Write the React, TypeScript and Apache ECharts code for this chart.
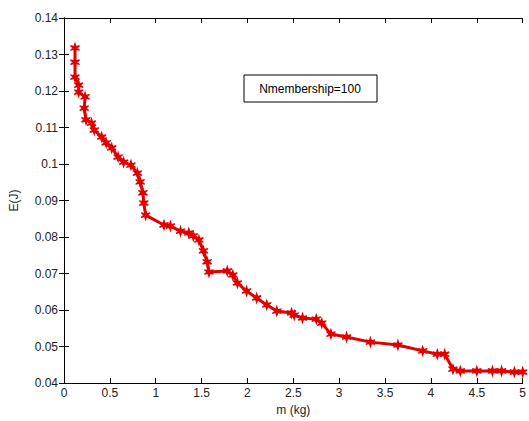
import React, { useEffect, useRef } from "react";
import * as echarts from "echarts";

const massKg = [0.12, 0.12, 0.12, 0.16, 0.16, 0.23, 0.22, 0.24, 0.30, 0.33, 0.41, 0.46, 0.52, 0.59, 0.65, 0.73, 0.80, 0.83, 0.86, 0.87, 0.89, 1.09, 1.16, 1.27, 1.36, 1.41, 1.47, 1.52, 1.56, 1.58, 1.78, 1.84, 1.89, 1.99, 2.10, 2.21, 2.32, 2.48, 2.51, 2.60, 2.75, 2.81, 2.91, 3.08, 3.34, 3.64, 3.91, 4.07, 4.15, 4.24, 4.32, 4.50, 4.67, 4.77, 4.91, 5.00];
const energyJ = [0.1318, 0.1279, 0.1238, 0.1216, 0.1197, 0.1184, 0.1153, 0.1121, 0.1112, 0.1093, 0.1074, 0.1058, 0.1044, 0.1019, 0.1005, 0.0997, 0.0975, 0.0951, 0.0921, 0.0893, 0.0860, 0.0833, 0.0830, 0.0816, 0.0811, 0.0803, 0.0792, 0.0762, 0.0732, 0.0704, 0.0707, 0.0696, 0.0674, 0.0652, 0.0633, 0.0614, 0.0597, 0.0592, 0.0586, 0.0578, 0.0575, 0.0564, 0.0534, 0.0526, 0.0512, 0.0504, 0.0488, 0.0479, 0.0479, 0.0438, 0.0433, 0.0433, 0.0433, 0.0433, 0.0430, 0.0430];
const annotation = "Nmembership=100";
const xName = "m (kg)";
const yName = "E(J)";

const FONT = "Liberation Sans, Arial, sans-serif";
const STAR = "path://M9,0 L11,7 L18,5 L12.5,10 L18,15 L11,13 L9,20 L7,13 L0,15 L5.5,10 L0,5 L7,7 Z";

export default function App() {
  const ref = useRef<HTMLDivElement>(null);
  useEffect(() => {
    if (!ref.current) return;
    const chart = echarts.init(ref.current, null, { renderer: "svg" });
    const data = massKg.map((m, i) => [m, energyJ[i]]);
    const axisCommon = {
      axisLine: { show: true, lineStyle: { color: "#000", width: 1 } },
      axisTick: { show: true, inside: true, length: 5, lineStyle: { color: "#000" } },
      splitLine: { show: false },
    };
    chart.setOption({
      animation: false,
      backgroundColor: "#fff",
      grid: { left: 62, right: 2, top: 18, bottom: 38, containLabel: false },
      xAxis: [
        {
          type: "value", min: 0, max: 5, interval: 0.5, position: "bottom",
          ...axisCommon,
          axisLabel: { color: "#222", fontFamily: FONT, fontSize: 12, margin: 4 },
          name: xName, nameLocation: "middle", nameGap: 20,
          nameTextStyle: { color: "#222", fontFamily: FONT, fontSize: 12 },
        },
        {
          type: "value", min: 0, max: 5, interval: 0.5, position: "top",
          ...axisCommon, axisLabel: { show: false },
        },
      ],
      yAxis: [
        {
          type: "value", min: 0.04, max: 0.14, interval: 0.01, position: "left",
          ...axisCommon,
          axisLabel: {
            color: "#222", fontFamily: FONT, fontSize: 12, margin: 6,
            formatter: (v: number) => String(parseFloat(v.toFixed(2))),
          },
          name: yName, nameLocation: "middle", nameGap: 44, nameRotate: 90,
          nameTextStyle: { color: "#222", fontFamily: FONT, fontSize: 12 },
        },
        {
          type: "value", min: 0.04, max: 0.14, interval: 0.01, position: "right",
          ...axisCommon, axisLabel: { show: false },
        },
      ],
      series: [
        {
          type: "line",
          data,
          xAxisIndex: 0,
          yAxisIndex: 0,
          symbol: STAR,
          symbolSize: 9,
          showAllSymbol: true,
          lineStyle: { color: "#e00000", width: 3 },
          itemStyle: { color: "#e00000", borderColor: "#e00000", borderWidth: 1.2 },
          clip: false,
        },
      ],
      graphic: [
        {
          type: "rect",
          shape: { x: 244, y: 75, width: 133, height: 27 },
          style: { fill: "#fff", stroke: "#000", lineWidth: 1 },
        },
        {
          type: "text",
          x: 310, y: 89,
          style: {
            text: annotation, fill: "#000", font: `12px ${FONT}`,
            align: "center", verticalAlign: "middle",
          },
        },
      ],
    });
    return () => chart.dispose();
  }, []);
  return (
    <div
      ref={ref}
      style={{ position: "fixed", left: 0, top: 0, width: 529, height: 421 }}
    />
  );
}
